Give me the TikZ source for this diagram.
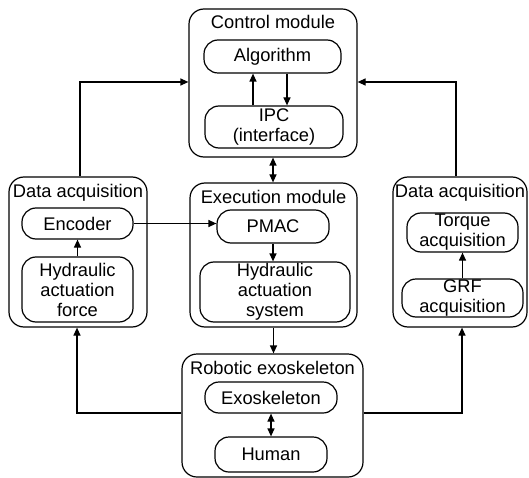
\documentclass[tikz,border=0pt]{standalone}
\usepackage{fontspec}
\setmainfont{Liberation Sans}
\usetikzlibrary{arrows.meta}
\begin{document}
\begin{tikzpicture}[x=1pt,y=-1pt,
  every node/.style={font=\fontsize{18.3}{20}\selectfont, inner sep=0pt, align=center},
  outer/.style={draw, line width=1.2pt, rounded corners=15pt},
  inner/.style={draw, line width=1.2pt, rounded corners=14pt},
  conn/.style={line width=1.2pt},
  arr/.style={conn, -{Triangle[length=8pt,width=7pt]}},
  darr/.style={conn, {Triangle[length=8pt,width=7pt]}-{Triangle[length=8pt,width=7pt]}}]
\useasboundingbox (0,0) rectangle (529,478);
% Control module
\node[outer, minimum width=168pt, minimum height=148pt] (ctrl) at (273,83) {};
\node (ctrlt) at (273,22) {Control module};
\node[inner, minimum width=137pt, minimum height=33pt] (alg) at (272.5,56.5) {Algorithm};
\node[inner, minimum width=138pt, minimum height=42pt] (ipc) at (274,127) {IPC\\(interface)};
% Execution module
\node[outer, minimum width=167pt, minimum height=144pt] (exe) at (273.5,255) {};
\node (exet) at (273.5,197) {Execution module};
\node[inner, minimum width=112pt, minimum height=33pt] (pmac) at (273,226.5) {PMAC};
\node[inner, minimum width=150pt, minimum height=60pt] (has) at (275,292) {Hydraulic\\actuation\\system};
% Left data acquisition
\node[outer, minimum width=138pt, minimum height=150pt] (lda) at (78,252) {};
\node (ldat) at (78,193) {Data acquisition};
\node[inner, minimum width=111pt, minimum height=31pt] (enc) at (77.5,223.5) {Encoder};
\node[inner, minimum width=111pt, minimum height=65pt] (haf) at (77.5,289.5) {Hydraulic\\actuation\\force};
% Right data acquisition
\node[outer, minimum width=134pt, minimum height=150pt] (rda) at (460,252) {};
\node (rdat) at (460,193) {Data acquisition};
\node[inner, minimum width=111pt, minimum height=39pt] (tq) at (462.5,232.5) {Torque\\acquisition};
\node[inner, minimum width=121pt, minimum height=38pt] (grf) at (462.5,298) {GRF\\acquisition};
% Robotic exoskeleton
\node[outer, minimum width=181pt, minimum height=123pt] (rob) at (272.5,415.5) {};
\node (robt) at (272.5,368) {Robotic exoskeleton};
\node[inner, minimum width=132pt, minimum height=31pt] (exo) at (271,397.5) {Exoskeleton};
\node[inner, minimum width=112pt, minimum height=35pt] (hum) at (271,454.5) {Human};
% helper coordinates
\coordinate (xu) at (253,0);
\coordinate (xd) at (287,0);
\coordinate (xl) at (77,0);
\coordinate (xlt) at (80,0);
\coordinate (xr) at (462,0);
\coordinate (xrt) at (456,0);
\coordinate (ytop) at (0,82);
\coordinate (ybot) at (0,413);
% connectors
\draw[arr] (xu |- ipc.north) -- (xu |- alg.south);
\draw[arr] (xd |- alg.south) -- (xd |- ipc.north);
\draw[darr] (ctrl.south) -- (ctrl.south |- exe.north);
\draw[arr] (pmac.south) -- (pmac.south |- has.north);
\draw[arr] (exe.south) -- (exe.south |- rob.north);
\draw[darr] (exo.south) -- (exo.south |- hum.north);
\draw[arr] (haf.north) -- (enc.south);
\draw[arr] (grf.north) -- (grf.north |- tq.south);
\draw[arr] (enc.east) -- (pmac.west |- enc.east);
\draw[arr] (xlt |- lda.north) -- (xlt |- ytop) -- (ctrl.west |- ytop);
\draw[arr] (xrt |- rda.north) -- (xrt |- ytop) -- (ctrl.east |- ytop);
\draw[arr] (rob.west |- ybot) -- (xl |- ybot) -- (xl |- lda.south);
\draw[arr] (rob.east |- ybot) -- (xr |- ybot) -- (xr |- rda.south);
\end{tikzpicture}
\end{document}
